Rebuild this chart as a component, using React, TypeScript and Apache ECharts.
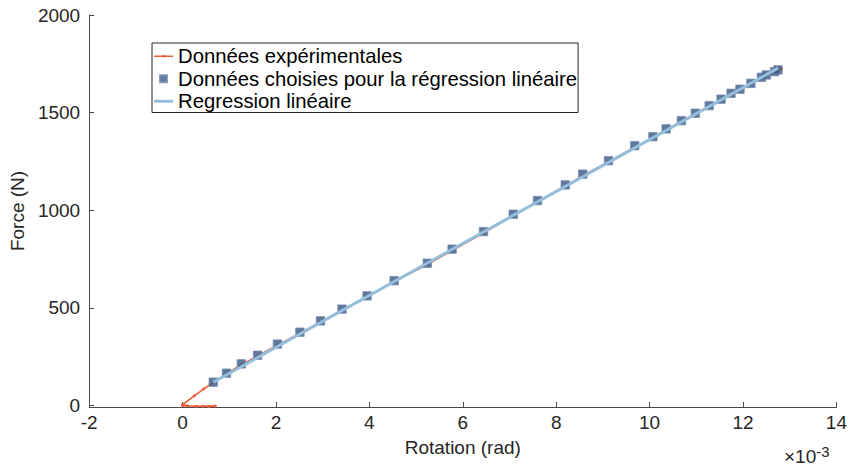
import React, { useEffect, useRef } from "react";
import * as echarts from "echarts";

// Rotation values are in units of 1e-3 rad (axis shows ×10^-3)
const expRotation = [0, 0.3, 0.56, 0.7, 0.45, 0.1, 0, 0.25, 0.45, 0.657, 0.939, 1.258, 1.606, 2.031, 2.512, 2.952, 3.413, 3.95, 4.53, 5.24, 5.771, 6.443, 7.08, 7.599, 8.194, 8.568, 9.12, 9.681, 10.07, 10.353, 10.68, 10.978, 11.275, 11.53, 11.743, 11.934, 12.168, 12.393, 12.499, 12.677, 12.748, 12.826];
const expForce = [0, -3, -4, -2, -3, -1, 5, 50, 85, 118, 162, 210, 254, 310, 371, 429, 489, 556, 634, 722, 794, 884, 972, 1042, 1122, 1178, 1248, 1324, 1371, 1411, 1453, 1491, 1530, 1563, 1593, 1615, 1645, 1676, 1689, 1706, 1715, 1724];

const selRotation = [0.657, 0.939, 1.258, 1.606, 2.031, 2.512, 2.952, 3.413, 3.95, 4.53, 5.24, 5.771, 6.443, 7.08, 7.599, 8.194, 8.568, 9.12, 9.681, 10.07, 10.353, 10.68, 10.978, 11.275, 11.53, 11.743, 11.934, 12.168, 12.393, 12.499, 12.677, 12.748];
const selForce = [120, 166, 214, 258, 315, 376, 434, 494, 562, 640, 729, 801, 891, 980, 1050, 1130, 1185, 1254, 1331, 1377, 1417, 1459, 1497, 1536, 1569, 1599, 1620, 1650, 1681, 1693, 1710, 1719];

const regRotation = [0.657, 12.75];
const regForce = [120, 1728];

const yTicks = [0, 500, 1000, 1500, 2000];

const seriesNames = [
  "Données expérimentales",
  "Données choisies pour la régression linéaire",
  "Regression linéaire",
];

const FONT = "'Liberation Sans', Arial, Helvetica, sans-serif";
const TEXT = "#262626";
const AXIS = "#4a4a4a";
const RED = "#ea5b38";
const NAVY = "#3a5783";
const LIGHT = "#93bedc";

export default function App() {
  const ref = useRef<HTMLDivElement>(null);
  useEffect(() => {
    if (!ref.current) return;
    const chart = echarts.init(ref.current, undefined, { renderer: "svg" });
    const zip = (a: number[], b: number[]) => a.map((v, i) => [v, b[i]]);
    chart.setOption({
      animation: false,
      backgroundColor: "#ffffff",
      textStyle: { fontFamily: FONT },
      grid: { left: 86, right: 11, top: 15, bottom: 63, containLabel: false },
      legend: {
        orient: "vertical",
        left: 152,
        top: 43,
        padding: [3, 1, 1, 2],
        itemGap: 2,
        itemWidth: 19,
        itemHeight: 7,
        symbolKeepAspect: true,
        borderColor: "#262626",
        borderWidth: 1,
        borderRadius: 0,
        backgroundColor: "#ffffff",
        textStyle: { fontSize: 20.3, color: "#000", fontFamily: FONT, lineHeight: 20.5 },
        data: [
          { name: seriesNames[0], icon: "path://M0,4.2 H20 V5.8 H0 Z M8.8,3.6 H11.2 V6.4 H8.8 Z" },
          { name: seriesNames[1], icon: "path://M0,0 H7 V7 H0 Z" },
          { name: seriesNames[2], icon: "path://M0,3.5 H20 V6.5 H0 Z" },
        ],
      },
      xAxis: {
        type: "value",
        min: -2,
        max: 14,
        interval: 2,
        name: "Rotation (rad)",
        nameLocation: "middle",
        nameGap: 31,
        nameTextStyle: { fontSize: 19, color: TEXT, fontFamily: FONT },
        axisLine: { show: true, onZero: false, lineStyle: { color: AXIS, width: 1 } },
        axisTick: { show: true, inside: true, length: 5, lineStyle: { color: AXIS } },
        axisLabel: { fontSize: 19, color: TEXT, margin: 6, fontFamily: FONT, formatter: (v: number) => String(v) },
        splitLine: { show: false },
      },
      yAxis: {
        type: "value",
        min: -7,
        max: 2000,
        name: "Force (N)",
        nameLocation: "middle",
        nameGap: 50,
        nameTextStyle: { fontSize: 19, color: TEXT, fontFamily: FONT },
        axisLine: { show: true, onZero: false, lineStyle: { color: AXIS, width: 1 } },
        axisTick: { show: true, inside: true, length: 5, lineStyle: { color: AXIS }, customValues: yTicks },
        axisLabel: { fontSize: 19, color: TEXT, margin: 9, fontFamily: FONT, customValues: yTicks, formatter: (v: number) => String(v) },
        splitLine: { show: false },
      },
      graphic: [
        {
          type: "text",
          left: 784,
          top: 444,
          style: {
            text: "×10{sup|-3}",
            fontSize: 19,
            fill: TEXT,
            fontFamily: FONT,
            rich: {
              sup: { fontSize: 15, fill: TEXT, fontFamily: FONT, padding: [0, 0, 10, 0] },
            },
          },
        },
      ],
      series: [
        {
          name: seriesNames[0],
          type: "line",
          data: zip(expRotation, expForce),
          symbol: "circle",
          symbolSize: 3,
          showSymbol: true,
          clip: false,
          itemStyle: { color: RED },
          lineStyle: { color: RED, width: 1.6 },
          z: 1,
        },
        {
          name: seriesNames[1],
          type: "scatter",
          data: zip(selRotation, selForce),
          symbol: "rect",
          symbolSize: 8.5,
          itemStyle: { color: NAVY, borderColor: "#6f8aae", borderWidth: 0.8 },
          z: 2,
        },
        {
          name: seriesNames[2],
          type: "line",
          data: zip(regRotation, regForce),
          symbol: "none",
          itemStyle: { color: LIGHT },
          lineStyle: { color: LIGHT, width: 3 },
          z: 3,
        },
      ],
    });
    return () => chart.dispose();
  }, []);
  return <div ref={ref} style={{ width: 850, height: 470, position: "absolute", left: 0, top: 0 }} />;
}
